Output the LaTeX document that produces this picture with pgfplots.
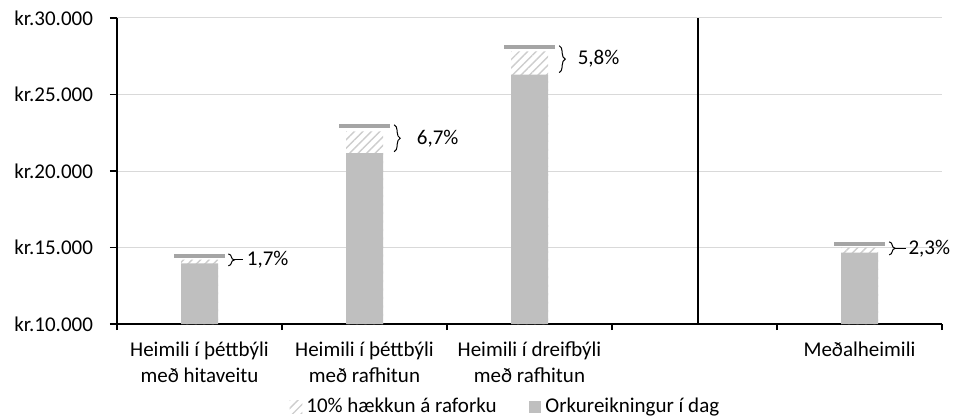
\documentclass[border=0pt]{standalone}
\usepackage{fontspec}
\setmainfont{Carlito}
\usepackage{pgfplots}
\pgfplotsset{compat=1.18}
\usetikzlibrary{patterns.meta,decorations.pathreplacing}
\definecolor{barg}{RGB}{191,191,191}
\definecolor{capg}{RGB}{165,165,165}
\definecolor{hatchg}{RGB}{205,205,205}
\definecolor{gridg}{RGB}{217,217,217}
\begin{document}
\begin{tikzpicture}[font=\fontsize{10.5}{13}\selectfont]
\useasboundingbox (-58.5pt,-47pt) rectangle (420pt,162pt);
\begin{axis}[
  scale only axis, width=412.5pt, height=153pt,
  xmin=-0.5, xmax=4.5, ymin=10000, ymax=30000,
  clip mode=individual,
  scaled y ticks=false,
  axis lines*=left,
  axis line style={black, line width=0.6pt},
  tick align=outside,
  xtick={0,1,2,4},
  xticklabels={{Heimili í þéttbýli\\með hitaveitu},{Heimili í þéttbýli\\með rafhitun},{Heimili í dreifbýli\\með rafhitun},{Meðalheimili}},
  xticklabel style={align=center, yshift=-2pt},
  major x tick style={draw=none},
  minor xtick={-0.5,0.5,1.5,2.5,3.5,4.5},
  minor tick length=3pt,
  minor x tick style={black, line width=0.6pt},
  ytick={10000,15000,20000,25000,30000},
  yticklabels={kr.10.000,kr.15.000,kr.20.000,kr.25.000,kr.30.000},
  major tick length=3.5pt,
  major y tick style={black, line width=0.6pt},
  yticklabel style={xshift=-5pt},
  ymajorgrids,
  major grid style={gridg, line width=0.5pt},
  legend style={at={(0.472,-0.271)}, anchor=center, draw=none, fill=none,
    legend columns=2, font=\fontsize{10.5}{13}\selectfont,
    /tikz/every even column/.append style={column sep=14pt}},
  legend cell align=left,
  legend image code/.code={\path[#1, draw=none] (0pt,-3.2pt) rectangle (6.4pt,3.2pt);},
]
% 10% increase (hatched), drawn first
\addplot[ybar, bar width=18.5pt, bar shift=0pt, draw=none,
  pattern={Lines[angle=45, distance=3pt, line width=0.7pt]}, pattern color=hatchg]
  coordinates {(0,14210) (1,22590) (2,27820) (4,15010)};
\addlegendentry{10\% hækkun á raforku}
% current bill
\addplot[ybar, bar width=18.5pt, bar shift=0pt, draw=none, fill=barg]
  coordinates {(0,13970) (1,21170) (2,26300) (4,14670)};
\addlegendentry{Orkureikningur í dag}
% caps
\addplot[forget plot, only marks, mark=-, mark size=12.75pt,
  mark options={line width=2pt, draw=capg, line cap=butt}]
  coordinates {(0,14450) (1,22930) (2,28130) (4,15260)};
% separator
\addplot[forget plot, black, line width=0.75pt] coordinates {(3.02,10000) (3.02,30000)};
% braces and labels
\draw[decorate, decoration={brace, amplitude=3pt}, black, line width=0.5pt]
  (axis cs:0.175,14580) -- (axis cs:0.175,13800);
\draw[black, line width=0.5pt] (axis cs:0.21,14190) -- (axis cs:0.265,14190);
\node[anchor=west, inner sep=0pt] at (axis cs:0.285,14190) {1,7\%};
\draw[decorate, decoration={brace, amplitude=3pt}, black, line width=0.5pt]
  (axis cs:1.18,23020) -- (axis cs:1.18,21260);
\node[anchor=west, inner sep=0pt] at (axis cs:1.315,22140) {6,7\%};
\draw[decorate, decoration={brace, amplitude=3pt}, black, line width=0.5pt]
  (axis cs:2.18,28190) -- (axis cs:2.18,26430);
\node[anchor=west, inner sep=0pt] at (axis cs:2.29,27310) {5,8\%};
\draw[decorate, decoration={brace, amplitude=3pt}, black, line width=0.5pt]
  (axis cs:4.18,15370) -- (axis cs:4.18,14520);
\draw[black, line width=0.5pt] (axis cs:4.215,14945) -- (axis cs:4.28,14945);
\node[anchor=west, inner sep=0pt] at (axis cs:4.295,14945) {2,3\%};
\end{axis}
\end{tikzpicture}
\end{document}
